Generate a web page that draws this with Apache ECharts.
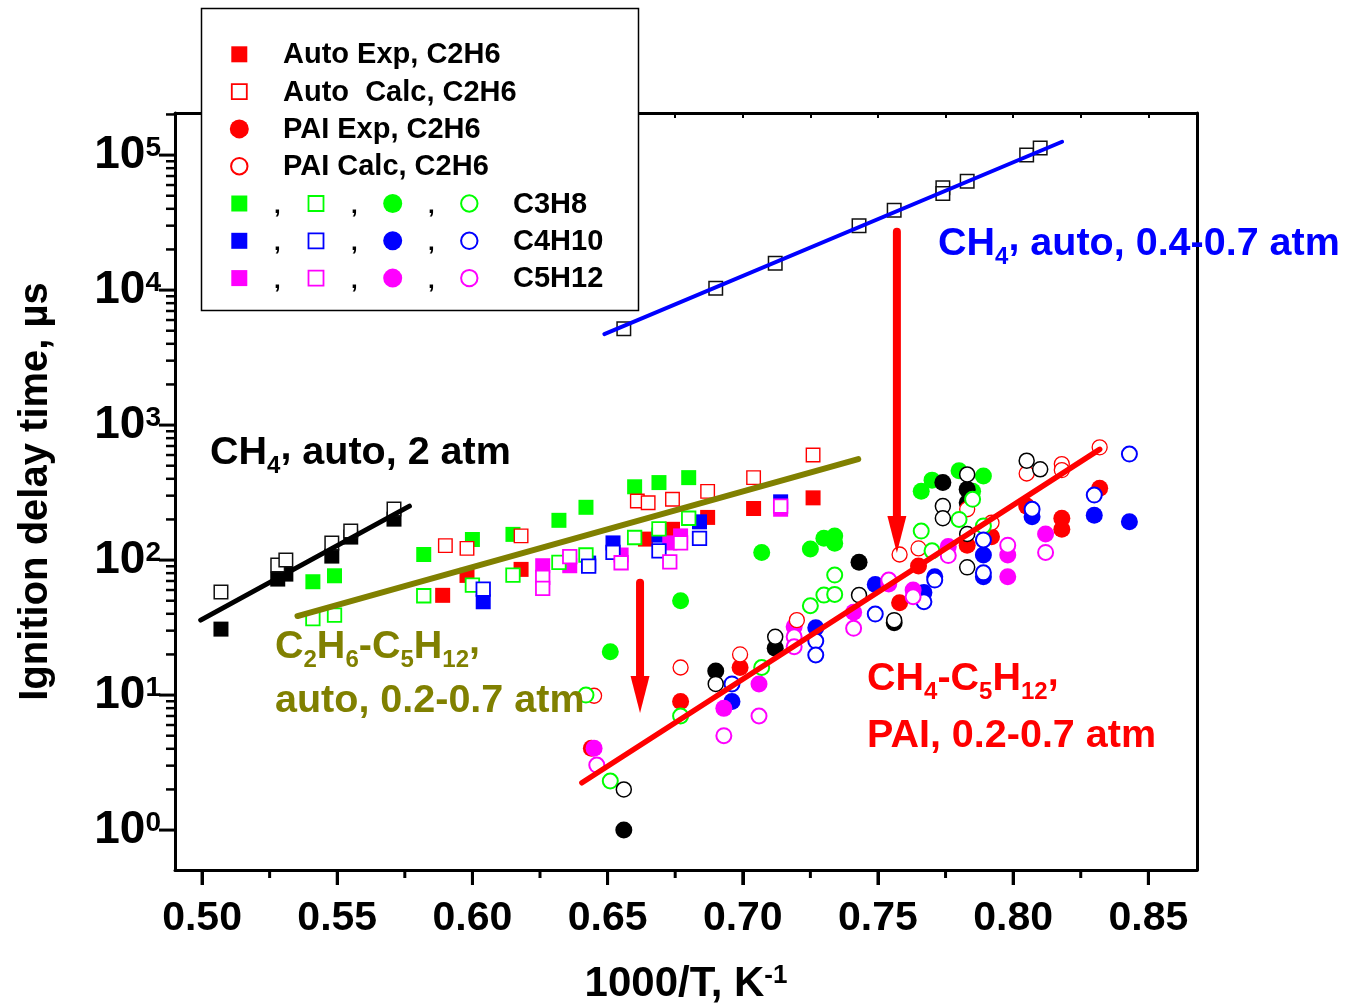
<!DOCTYPE html>
<html>
<head>
<meta charset="utf-8">
<script src="https://cdn.jsdelivr.net/npm/echarts@6/dist/echarts.min.js"></script>
<style>html,body{margin:0;padding:0;background:#fff}#c{width:1345px;height:1005px}</style>
</head>
<body>
<div id="c"></div>
<script>
// ---------------- axis ranges & ticks ----------------
const xMin = 0.49, xMax = 0.868;
const yMin = 0.506, yMax = 2.05e5;
const xMajorTicks = [0.50, 0.55, 0.60, 0.65, 0.70, 0.75, 0.80, 0.85];
const xMinorTicks = [0.525, 0.575, 0.625, 0.675, 0.725, 0.775, 0.825];
const xTopTicks = [0.500, 0.525, 0.550, 0.575, 0.600, 0.625, 0.650, 0.675, 0.700, 0.725, 0.750, 0.775, 0.800, 0.825, 0.850];
const yMajorTicks = [1, 10, 100, 1000, 10000, 100000];
const yMinorMultipliers = [2, 3, 4, 5, 6, 7, 8, 9];

// ---------------- data (1000/T, ignition delay µs) ----------------
const c2h6AutoExp = [[0.589,54.8],[0.598,77.0],[0.618,85.3],[0.664,143],[0.674,169],[0.687,207],[0.704,241],[0.726,289]];
const c2h6AutoCalc = [[0.590,128],[0.598,122],[0.618,151],[0.661,274],[0.665,266],[0.674,282],[0.687,323],[0.704,408],[0.726,600]];
const c2h6PaiExp = [[0.644,4.03],[0.677,8.97],[0.699,16.0],[0.758,48.3],[0.765,90.3],[0.783,129],[0.792,149],[0.805,251],[0.818,204],[0.818,169],[0.832,340]];
const c2h6PaiCalc = [[0.645,9.88],[0.677,16.0],[0.699,20.0],[0.720,35.9],[0.758,110],[0.765,122],[0.783,238],[0.792,189],[0.805,438],[0.818,514],[0.818,464],[0.832,684]];

const c3h8AutoExp = [[0.541,69.1],[0.549,76.5],[0.582,110],[0.600,142],[0.615,155],[0.632,197],[0.642,246],[0.660,349],[0.669,375],[0.680,408]];
const c3h8AutoCalc = [[0.541,36.8],[0.549,39.1],[0.582,54.4],[0.600,65.3],[0.615,77.4],[0.632,96.2],[0.642,109],[0.660,147],[0.669,170],[0.680,204]];
const c3h8PaiExp = [[0.651,20.9],[0.677,50.0],[0.707,114],[0.725,121],[0.730,145],[0.734,133],[0.734,151],[0.766,323],[0.770,391],[0.780,459],[0.789,419],[0.785,323]];
const c3h8PaiCalc = [[0.642,10.0],[0.651,2.31],[0.677,7.0],[0.707,16.0],[0.725,45.9],[0.730,55.0],[0.734,55.7],[0.734,77.4],[0.766,164],[0.770,117],[0.780,200],[0.789,179],[0.785,282]];

const c4h10AutoExp = [[0.604,49.1],[0.643,95.0],[0.652,134],[0.669,153],[0.684,192],[0.714,270]];
const c4h10AutoCalc = [[0.604,61.0],[0.643,90.3],[0.652,114],[0.669,117],[0.684,145]];
const c4h10PaiExp = [[0.696,8.97],[0.727,31.5],[0.749,66.0],[0.767,57.6],[0.771,75.2],[0.789,109],[0.789,75.2],[0.807,209],[0.830,215],[0.843,192]];
const c4h10PaiCalc = [[0.696,12.1],[0.727,25.1],[0.727,19.8],[0.749,39.8],[0.767,49.1],[0.771,71.1],[0.789,141],[0.789,80.5],[0.807,238],[0.830,303],[0.843,610]];

const c5h12AutoExp = [[0.626,90.8],[0.636,90.8],[0.655,109],[0.673,134],[0.677,151],[0.714,238]];
const c5h12AutoCalc = [[0.626,74.5],[0.626,61.7],[0.636,106],[0.655,95.5],[0.673,97.1],[0.677,134],[0.714,251]];
const c5h12PaiExp = [[0.645,4.03],[0.693,7.97],[0.706,12.1],[0.719,32.1],[0.741,41.0],[0.754,66.4],[0.763,59.9],[0.776,126],[0.798,109],[0.798,75.2],[0.812,156]];
const c5h12PaiCalc = [[0.646,3.03],[0.693,5.0],[0.706,7.0],[0.719,27.0],[0.719,22.8],[0.741,31.2],[0.754,71.1],[0.763,53.5],[0.776,108],[0.798,129],[0.812,114]];

const ch4AutoExp = [[0.507,30.8],[0.528,72.3],[0.531,78.7],[0.548,107],[0.555,148],[0.571,201]];
const ch4AutoCalc = [[0.507,58],[0.528,91.8],[0.531,100],[0.548,134],[0.555,164],[0.571,239],
  [0.656,5170],[0.690,10300],[0.712,15800],[0.743,29900],[0.756,39100],[0.774,57300],[0.774,52000],[0.783,64100],[0.805,100000],[0.810,113000]];
const ch4PaiExp = [[0.656,1.0],[0.690,15.1],[0.712,22.2],[0.743,96.2],[0.756,34.3],[0.774,375],[0.783,334],[0.783,266]];
const ch4PaiCalc = [[0.656,2.0],[0.690,12.1],[0.712,27.0],[0.743,55.0],[0.756,35.9],[0.774,251],[0.774,204],[0.783,431],[0.783,88.3],[0.783,156],[0.805,545],[0.810,470]];

// fit lines
const fitCh4High = [[0.4995,35.9],[0.5767,251]];
const fitCh4Low = [[0.6488,4720],[0.8181,125500]];
const fitAuto = [[0.5353,38.5],[0.7427,560]];
const fitPai = [[0.6405,2.24],[0.832,661]];
// arrows: [x, yStart, yTip]
const arrows = [[0.662,67.9,7.36],[0.757,27000,113]];

// ---------------- styling helpers ----------------
const FONT = "'Liberation Sans', Arial, Helvetica, sans-serif";
const RED = '#ff0000', GREEN = '#00ff00', BLUE = '#0000ff', MAG = '#ff00ff', BLK = '#000000', OLIVE = '#808000';

function sqFilled(data, color) {
  return {type:'scatter', data, symbol:'rect', symbolSize:15, itemStyle:{color, opacity:1}, silent:true, z:3};
}
function sqOpen(data, color, bw) {
  return {type:'scatter', data, symbol:'rect', symbolSize:13.5, itemStyle:{color:'#ffffff', borderColor:color, borderWidth:bw||1.8, opacity:1}, silent:true, z:4};
}
function ciFilled(data, color) {
  return {type:'scatter', data, symbol:'circle', symbolSize:17, itemStyle:{color, opacity:1}, silent:true, z:3};
}
function ciOpen(data, color, bw) {
  return {type:'scatter', data, symbol:'circle', symbolSize:15, itemStyle:{color:'#ffffff', borderColor:color, borderWidth:bw||2, opacity:1}, silent:true, z:4};
}
function fit(data, color, w) {
  return {type:'line', data, symbol:'none', silent:true, z:6, lineStyle:{color, width:w, cap:'round'}};
}

const yMinorTicks = [];
yMajorTicks.forEach(d => yMinorMultipliers.forEach(m => { if (d * m < yMax) yMinorTicks.push(d * m); }));

const series = [
  sqFilled(c2h6AutoExp, RED), sqOpen(c2h6AutoCalc, RED, 1.4),
  sqFilled(c3h8AutoExp, GREEN), sqOpen(c3h8AutoCalc, GREEN),
  sqFilled(c4h10AutoExp, BLUE), sqOpen(c4h10AutoCalc, BLUE),
  sqFilled(c5h12AutoExp, MAG), sqOpen(c5h12AutoCalc, MAG),
  sqFilled(ch4AutoExp, BLK), sqOpen(ch4AutoCalc, '#111', 1.5),
  ciFilled(c2h6PaiExp, RED), ciOpen(c2h6PaiCalc, RED, 1.3),
  ciFilled(c3h8PaiExp, GREEN), ciOpen(c3h8PaiCalc, GREEN),
  ciFilled(c4h10PaiExp, BLUE), ciOpen(c4h10PaiCalc, BLUE),
  ciFilled(c5h12PaiExp, MAG), ciOpen(c5h12PaiCalc, MAG),
  ciFilled(ch4PaiExp, BLK), ciOpen(ch4PaiCalc, BLK, 1.5),
  fit(fitCh4High, BLK, 5), fit(fitCh4Low, BLUE, 4), fit(fitAuto, OLIVE, 6), fit(fitPai, RED, 5.5),
  {
    type:'custom', data: arrows, encode:{x:0, y:[1,2]}, z:10, silent:true, clip:false,
    renderItem(params, api) {
      const p0 = api.coord([api.value(0), api.value(1)]);
      const p1 = api.coord([api.value(0), api.value(2)]);
      const hl = 37, hw = 9.5;
      return {type:'group', children:[
        {type:'line', shape:{x1:p0[0], y1:p0[1], x2:p1[0], y2:p1[1]-hl+3}, style:{stroke:RED, lineWidth:8, lineCap:'round'}},
        {type:'polygon', shape:{points:[[p1[0]-hw, p1[1]-hl],[p1[0]+hw, p1[1]-hl],[p1[0], p1[1]]]}, style:{fill:RED}}
      ]};
    }
  }
];

// ---------------- annotations & legend (graphic) ----------------
function richSet(color, fs) {
  return {
    m:{fontSize:fs, fontWeight:'bold', fontFamily:FONT, color, lineHeight:50, verticalAlign:'middle'},
    s:{fontSize:24, fontWeight:'bold', fontFamily:FONT, color, lineHeight:24, verticalAlign:'bottom'},
    c:{fontSize:fs, fontWeight:'bold', fontFamily:FONT, color, lineHeight:26, verticalAlign:'top'}
  };
}
function annot(text, x, top, color) {
  return {type:'text', z:50, style:{text, x, y:top, rich:richSet(color, 39.5), verticalAlign:'top', align:'left', fill:color}};
}
const graphics = [
  annot('{m|CH}{s|4}{c|,}{m| auto, 2 atm}', 210, 428, BLK),
  annot('{m|CH}{s|4}{c|,}{m| auto, 0.4-0.7 atm}', 938, 219.5, BLUE),
  annot('{m|C}{s|2}{m|H}{s|6}{m|-C}{s|5}{m|H}{s|12}{c|,}', 275, 622.5, OLIVE),
  annot('{m|auto, 0.2-0.7 atm}', 275, 676.5, OLIVE),
  annot('{m|CH}{s|4}{m|-C}{s|5}{m|H}{s|12}{c|,}', 867, 654.5, RED),
  annot('{m|PAI, 0.2-0.7 atm}', 867, 711.5, RED)
];

// legend box
graphics.push({type:'rect', z:60, shape:{x:201.5, y:8.5, width:437, height:302}, style:{fill:'#ffffff', stroke:'#000', lineWidth:1.5}});
const legendRowY = [54.3, 91.6, 128.9, 166.2, 203.5, 240.8, 278.1];
function legSym(kind, color, cx, cy) {
  if (kind === 'sf') return {type:'rect', z:61, shape:{x:cx-8, y:cy-8, width:16, height:16}, style:{fill:color}};
  if (kind === 'so') return {type:'rect', z:61, shape:{x:cx-7.5, y:cy-7.5, width:15, height:15}, style:{fill:'#fff', stroke:color, lineWidth:1.8}};
  if (kind === 'cf') return {type:'circle', z:61, shape:{cx, cy, r:9.5}, style:{fill:color}};
  return {type:'circle', z:61, shape:{cx, cy, r:8.2}, style:{fill:'#fff', stroke:color, lineWidth:2}};
}
function legText(t, x, y, fs) {
  return {type:'text', z:61, style:{text:t, x, y, fill:'#000', font:'bold ' + (fs||29) + 'px ' + FONT, verticalAlign:'middle', align:'left'}};
}
const legendTop = [['sf','Auto Exp, C2H6'],['so','Auto  Calc, C2H6'],['cf','PAI Exp, C2H6'],['co','PAI Calc, C2H6']];
legendTop.forEach((r, i) => {
  graphics.push(legSym(r[0], RED, 239.3, legendRowY[i]));
  graphics.push(legText(r[1], 283, legendRowY[i] + 1));
});
const legendBottom = [[GREEN,'C3H8'],[BLUE,'C4H10'],[MAG,'C5H12']];
const symX = [239.3, 316, 392.7, 469.3], commaX = [274, 351, 428];
legendBottom.forEach((r, j) => {
  const y = legendRowY[4 + j];
  ['sf','so','cf','co'].forEach((k, i) => graphics.push(legSym(k, r[0], symX[i], y)));
  commaX.forEach(cx => graphics.push(legText(',', cx, y + 3, 24)));
  graphics.push(legText(r[1], 513, y + 1));
});

// ---------------- chart ----------------
const axisLineStyle = {color:'#000', width:3};
const option = {
  backgroundColor:'#ffffff',
  animation:false,
  grid:{left:175, top:113, right:148, bottom:135, containLabel:false, outerBoundsMode:'none'},
  graphic: graphics,
  xAxis:[
    {type:'value', position:'bottom', offset:0, min:xMin, max:xMax,
     name:'{m|1000/T, K}{s|-1}', nameLocation:'middle', nameGap:93,
     nameTextStyle:{rich:{
       m:{fontSize:42, fontWeight:'bold', fontFamily:FONT, color:'#000', lineHeight:42, verticalAlign:'middle'},
       s:{fontSize:26, fontWeight:'bold', fontFamily:FONT, color:'#000', lineHeight:22, verticalAlign:'top'}}},
     axisLine:{show:true, onZero:false, lineStyle:axisLineStyle},
     axisTick:{show:true, inside:false, length:15, customValues:xMajorTicks, lineStyle:{color:'#000', width:3}},
     axisLabel:{show:true, customValues:xMajorTicks, margin:28, formatter:v => v.toFixed(2),
       fontSize:41, fontWeight:'bold', fontFamily:FONT, color:'#000'},
     splitLine:{show:false}},
    {type:'value', position:'top', offset:0, min:xMin, max:xMax,
     axisLine:{show:true, onZero:false, lineStyle:axisLineStyle}, axisLabel:{show:false}, splitLine:{show:false},
     axisTick:{show:true, inside:true, length:5, customValues:xTopTicks, lineStyle:{color:'#000', width:2}}}
  ],
  yAxis:[
    {type:'log', logBase:10, position:'left', offset:0, min:yMin, max:yMax,
     name:'Ignition delay time, µs', nameLocation:'middle', nameGap:119,
     nameTextStyle:{fontSize:40, fontWeight:'bold', fontFamily:FONT, color:'#000'},
     axisLine:{show:true, onZero:false, lineStyle:axisLineStyle},
     axisTick:{show:false},
     axisLabel:{show:true, margin:14, showMinLabel:false, showMaxLabel:false,
       formatter:v => '{b|10}{s|' + Math.round(Math.log10(v)) + '}',
       rich:{
         b:{fontSize:46, fontWeight:'bold', fontFamily:FONT, color:'#000', lineHeight:42, verticalAlign:'middle'},
         s:{fontSize:28, fontWeight:'bold', fontFamily:FONT, color:'#000', lineHeight:20, verticalAlign:'top'}}},
     splitLine:{show:false}},
    {type:'log', logBase:10, position:'right', offset:0, min:yMin, max:yMax,
     axisLine:{show:true, onZero:false, lineStyle:axisLineStyle}, axisLabel:{show:false}, axisTick:{show:false}, splitLine:{show:false}}
  ],
  series: series
};
const chart = echarts.init(document.getElementById('c'), null, {renderer:'canvas'});
chart.setOption(option);

// ---------------- tick marks placed through the axes' own value->pixel mapping ----------------
const tickEls = [];
const leftPx = chart.convertToPixel({xAxisIndex:0}, xMin);
const bottomPx = chart.convertToPixel({yAxisIndex:0}, yMin);
function yTick(v, len, w) {
  const py = chart.convertToPixel({yAxisIndex:0}, v);
  tickEls.push({type:'line', z:70, silent:true, shape:{x1:leftPx - len, y1:py, x2:leftPx, y2:py}, style:{stroke:'#000', lineWidth:w}});
}
function xTick(v, len, w) {
  const px = chart.convertToPixel({xAxisIndex:0}, v);
  tickEls.push({type:'line', z:70, silent:true, shape:{x1:px, y1:bottomPx, x2:px, y2:bottomPx + len}, style:{stroke:'#000', lineWidth:w}});
}
yMajorTicks.forEach(v => yTick(v, 16, 3));
yMinorTicks.forEach(v => yTick(v, 9, 2.5));
xMajorTicks.forEach(v => xTick(v, 15, 3));
xMinorTicks.forEach(v => xTick(v, 8, 3));
chart.setOption({graphic: graphics.concat(tickEls)});
</script>
</body>
</html>
